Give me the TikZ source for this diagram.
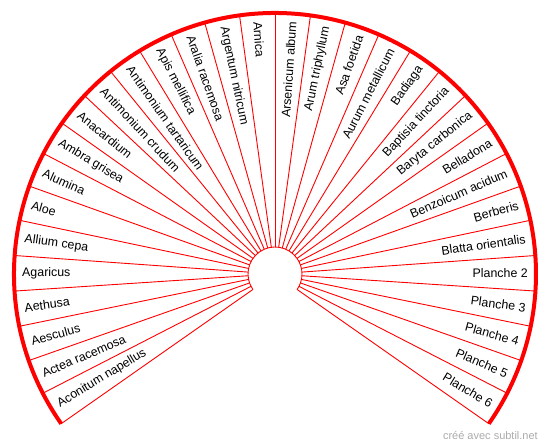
\documentclass[tikz,border=0pt]{standalone}
\usepackage{fontspec}
\setmainfont{Liberation Sans}
\begin{document}
\begin{tikzpicture}[x=1pt,y=1pt,
  rim/.style={draw=red, line width=4},
  spoke/.style={draw=red, line width=0.9},
  lbl/.style={font=\fontsize{12.4}{14}\selectfont, inner sep=0pt, text=black},
  credit/.style={font=\fontsize{11}{13}\selectfont, text=black!33, inner sep=0pt}]
\useasboundingbox (0,0) rectangle (550,447);
\coordinate (c) at (275,173);
\draw[spoke] ([shift={(215:27)}]c) arc[start angle=215,end angle=-35,radius=27];
\foreach \k in {0,...,32}{
  \pgfmathsetmacro\a{215-\k*7.8125}
  \draw[spoke] ([shift={(\a:27)}]c) -- ([shift={(\a:261)}]c);
}
\draw[rim] ([shift={(215:261)}]c) arc[start angle=215,end angle=-35,radius=261];
\foreach \nm [count=\i] in {Aconitum napellus,Actea racemosa,Aesculus,Aethusa,Agaricus,Allium cepa,Aloe,Alumina,Ambra grisea,Anacardium,Antimonium crudum,Antimonium tartaricum,Apis mellifica,Aralia racemosa,Argentum nitricum,Arnica,Arsenicum album,Arum triphyllum,Asa foetida,Aurum metallicum,Badiaga,Baptisia tinctoria,Baryta carbonica,Belladona,Benzoicum acidum,Berberis,Blatta orientalis,Planche 2,Planche 3,Planche 4,Planche 5,Planche 6}{
  \pgfmathsetmacro\a{215-(\i-0.5)*7.8125}
  \ifnum\i<17
    \node[lbl,anchor=west,rotate=\a-180] (s\i) at ([shift={(\a:253)}]c) {\nm};
  \else
    \node[lbl,anchor=east,rotate=\a] (s\i) at ([shift={(\a:253)}]c) {\nm};
  \fi
}
\node[credit,anchor=east] (credit) at (538,11) {créé avec subtil.net};
\end{tikzpicture}
\end{document}
